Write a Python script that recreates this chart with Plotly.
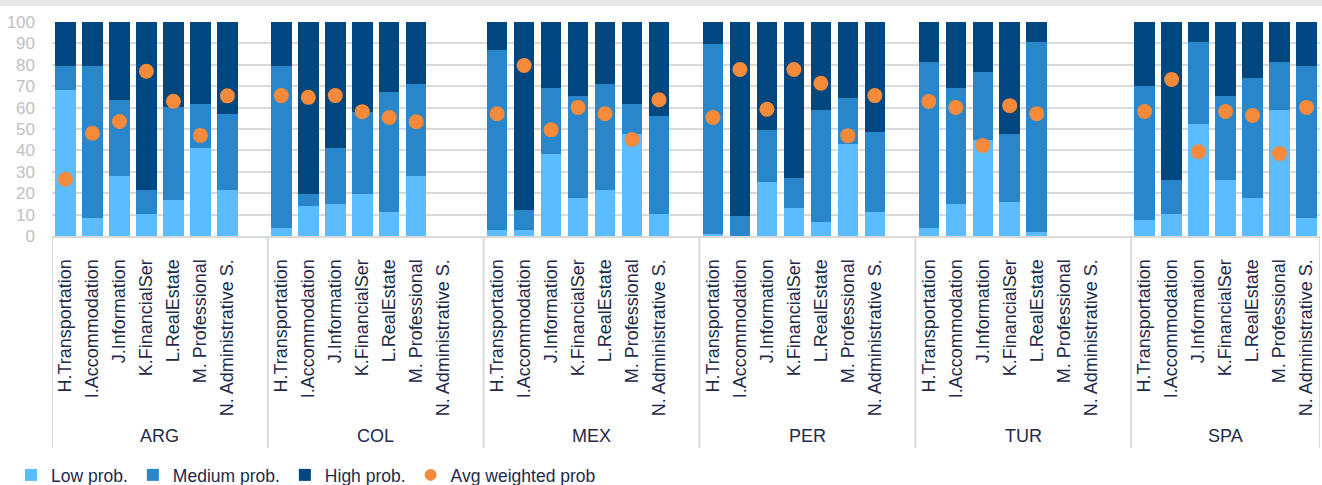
import plotly.graph_objects as go

countries = ["ARG", "COL", "MEX", "PER", "TUR", "SPA"]
sectors = ["H.Transportation", "I.Accommodation", "J.Information", "K.FinancialSer",
           "L.RealEstate", "M. Professional", "N. Administrative S."]

low_prob = [
    [68.4, 8.3, 28.2, 10.2, 16.7, 41.3, 21.4],      # ARG
    [3.6, 14.1, 15.0, 19.6, 11.3, 28.2, None],      # COL
    [2.7, 2.7, 38.3, 17.7, 21.4, 47.7, 10.2],       # MEX
    [0.8, 0.0, 25.2, 13.0, 6.4, 43.0, 11.1],        # PER
    [3.6, 15.0, 44.9, 16.0, 1.9, None, None],       # TUR
    [7.4, 10.2, 52.4, 26.1, 17.7, 59.0, 8.3],       # SPA
]
medium_prob = [
    [11.1, 71.2, 35.5, 11.2, 43.4, 20.5, 35.7],
    [75.9, 5.5, 26.3, 38.5, 56.0, 42.8, None],
    [84.2, 9.4, 30.9, 47.7, 49.6, 14.1, 46.0],
    [89.0, 9.2, 24.4, 14.1, 52.6, 21.5, 37.6],
    [77.8, 54.2, 31.8, 31.7, 88.7, None, None],
    [62.7, 15.9, 38.2, 39.3, 56.2, 22.4, 71.2],
]
high_prob = [
    [20.5, 20.5, 36.3, 78.6, 39.9, 38.2, 42.9],
    [20.5, 80.4, 58.7, 41.9, 32.7, 29.0, None],
    [13.1, 87.9, 30.8, 34.6, 29.0, 38.2, 43.8],
    [10.2, 90.8, 50.4, 72.9, 41.0, 35.5, 51.3],
    [18.6, 30.8, 23.3, 52.3, 9.4, None, None],
    [29.9, 73.9, 9.4, 34.6, 26.1, 18.6, 20.5],
]
avg_weighted = [
    [26.5, 48.0, 53.5, 77.0, 63.0, 47.0, 65.5],
    [65.6, 64.8, 65.6, 58.1, 55.4, 53.4, None],
    [57.1, 79.7, 49.6, 60.1, 57.1, 45.1, 63.7],
    [55.4, 77.8, 59.2, 77.8, 71.4, 46.9, 65.6],
    [62.9, 60.1, 42.3, 60.9, 57.1, None, None],
    [58.2, 73.1, 39.4, 58.2, 56.3, 38.5, 60.1],
]

SLOTS = len(sectors) + 1  # one empty slot between country groups

xs, ticktext = [], []
for g, _ in enumerate(countries):
    for i, s in enumerate(sectors):
        xs.append(g * SLOTS + i)
        ticktext.append(s)


def flat(rows):
    return [v for r in rows for v in r]


NAVY = "#1F2B4A"
GRID = "#D9D9D9"
FONT = "Liberation Sans, Arial, sans-serif"

fig = go.Figure()
fig.add_bar(x=xs, y=flat(low_prob), name="Low prob.", marker=dict(color="#5BBCFF", line_width=0), width=0.76)
fig.add_bar(x=xs, y=flat(medium_prob), name="Medium prob.", marker=dict(color="#2A86CA", line_width=0), width=0.76)
fig.add_bar(x=xs, y=flat(high_prob), name="High prob.", marker=dict(color="#00467F", line_width=0), width=0.76)
fig.add_scatter(x=xs, y=flat(avg_weighted), mode="markers", name="Avg weighted prob",
                marker=dict(color="#F58A3B", size=15, line_width=0))

x_max = max(xs) + 0.5
plot_h = 214.0

shapes = []
bounds = [g * SLOTS - 0.5 for g in range(len(countries))] + [x_max]
for b in bounds:
    shapes.append(dict(type="line", xref="x", yref="paper", x0=b, x1=b, y0=0, y1=-212 / plot_h,
                       line=dict(color=GRID, width=2)))
shapes.append(dict(type="rect", xref="paper", yref="paper", x0=-0.1, x1=1.1,
                   y0=1 + 16 / plot_h, y1=1 + 24 / plot_h, fillcolor="#E7E7E7", line_width=0, layer="below"))

annotations = []
for g, c in enumerate(countries):
    if g < len(countries) - 1:
        center = g * SLOTS + (SLOTS - 1) / 2
    else:
        center = (g * SLOTS + max(xs)) / 2
    annotations.append(dict(text=c, x=center, xref="x", y=-200 / plot_h, yref="paper",
                            showarrow=False, yanchor="middle", xanchor="center",
                            font=dict(size=18, color=NAVY, family=FONT)))

fig.update_layout(
    width=1322, height=485,
    margin=dict(l=52, r=2, t=22, b=249),
    barmode="stack",
    plot_bgcolor="white", paper_bgcolor="white",
    font=dict(family=FONT, color=NAVY),
    xaxis=dict(range=[-0.5, x_max], tickmode="array", tickvals=xs, ticktext=ticktext,
               tickangle=-90, tickfont=dict(size=18, color=NAVY, family=FONT),
               showgrid=False, showline=True, linecolor=GRID, linewidth=2,
               ticks="", ticklabelstandoff=14, zeroline=False, automargin=False),
    yaxis=dict(range=[0, 100], dtick=10, showgrid=True, gridcolor=GRID, gridwidth=2,
               tickfont=dict(size=17, color="#C0C0C0", family=FONT), zeroline=False,
               ticklabelstandoff=16, showline=False, automargin=False),
    legend=dict(orientation="h", xref="container", yref="container",
                x=11 / 1322, xanchor="left", y=1 - 475 / 485, yanchor="middle",
                font=dict(size=17.5, color=NAVY, family=FONT), itemsizing="constant",
                traceorder="normal", bgcolor="rgba(0,0,0,0)"),
    shapes=shapes, annotations=annotations,
    bargap=0,
)

fig.write_html("out.html")
